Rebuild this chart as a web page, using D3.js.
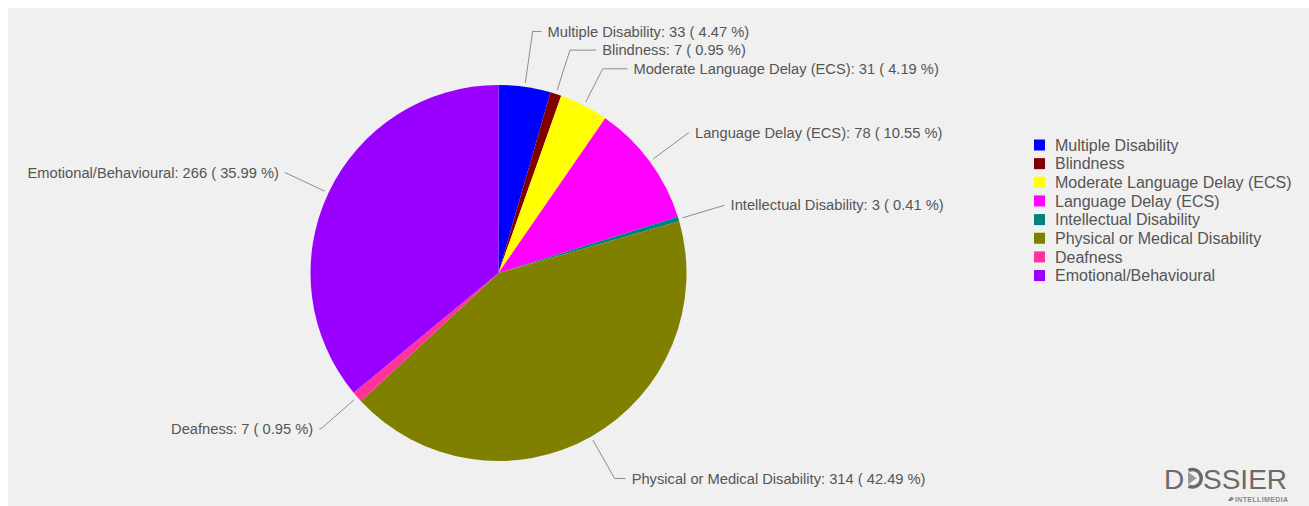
<!DOCTYPE html>
<html><head><meta charset="utf-8">
<script src="https://cdn.jsdelivr.net/npm/d3@7"></script>
<style>
body{margin:0;background:#fff}
svg{display:block}
text{font-family:"Liberation Sans",Arial,Helvetica,sans-serif}
</style>
</head><body>
<svg id="chart" width="1309" height="506"></svg>
<script>
const categories = ["Multiple Disability","Blindness","Moderate Language Delay (ECS)","Language Delay (ECS)","Intellectual Disability","Physical or Medical Disability","Deafness","Emotional/Behavioural"];
const values = [33, 7, 31, 78, 3, 314, 7, 266];
const colors = ["#0000ff","#800000","#ffff00","#ff00ff","#008080","#808000","#ff3399","#9900ff"];

const W = 1309, H = 506;
const svg = d3.select("#chart");
svg.append("rect").attr("x", 8).attr("y", 8).attr("width", W - 8).attr("height", H - 8).attr("fill", "#f0f0f0");

const cx = 498.5, cy = 273, r = 188;
const total = d3.sum(values);
const data = categories.map((c, i) => ({name: c, value: values[i], color: colors[i], pct: (values[i] / total * 100).toFixed(2)}));

const pie = d3.pie().value(d => d.value).sort(null).startAngle(0).endAngle(2 * Math.PI);
const arcs = pie(data);
const arc = d3.arc().innerRadius(0).outerRadius(r);

const g = svg.append("g").attr("transform", `translate(${cx},${cy})`);
g.selectAll("path.slice").data(arcs).join("path")
  .attr("class", "slice")
  .attr("d", arc)
  .attr("fill", d => d.data.color);

// label layout
const Rn = 236, Rx = 233, Ry = 246, lh = 18.7;
const labels = arcs.map(d => {
  const a = (d.startAngle + d.endAngle) / 2;
  const s = Math.sin(a) >= 0 ? 1 : -1;
  return {d, a, s, ny: cy - Rn * Math.cos(a)};
});

function distribute(items, h, minY, maxY) {
  items.sort((p, q) => p.ny - q.ny);
  const groups = items.map(d => ({items: [d]}));
  const place = grp => {
    const n = grp.items.length;
    let top = d3.mean(grp.items, (d, i) => d.ny - i * h);
    top = Math.max(minY, Math.min(maxY - (n - 1) * h, top));
    grp.top = top;
  };
  groups.forEach(place);
  let changed = true;
  while (changed) {
    changed = false;
    for (let i = 0; i < groups.length - 1; i++) {
      const A = groups[i], B = groups[i + 1];
      if (A.top + A.items.length * h > B.top) {
        A.items = A.items.concat(B.items);
        groups.splice(i + 1, 1);
        place(A);
        changed = true;
        break;
      }
    }
  }
  groups.forEach(grp => grp.items.forEach((d, i) => d.y = grp.top + i * h));
}
distribute(labels.filter(l => l.s > 0), lh, 20, 490);
distribute(labels.filter(l => l.s < 0), lh, 20, 490);

labels.forEach(l => {
  const ca = Math.cos(l.a), sa = Math.sin(l.a);
  let t = Math.abs(ca) > 1e-6 ? (cy - l.y) / ca : r + 40;
  if (!(t > 0)) t = r + 40;
  t = Math.max(r + 15, Math.min(r + 70, t));
  l.ax = cx + (r + 4) * sa; l.ay = cy - (r + 4) * ca;
  l.ex = cx + t * sa; l.ey = l.y;
  const dy = l.y - cy;
  const ex = Rx * Math.sqrt(Math.max(0, 1 - (dy / Ry) * (dy / Ry)));
  const ellX = cx + l.s * (ex + 5);
  l.tx = l.s > 0 ? Math.max(l.ex + 6, ellX) : Math.min(l.ex - 6, ellX);
  l.hx = l.tx - l.s * 6;
});

const lg = svg.append("g");
lg.selectAll("path.conn").data(labels).join("path")
  .attr("class", "conn")
  .attr("d", l => `M${l.ax},${l.ay}L${l.ex},${l.ey}L${l.hx},${l.ey}`)
  .attr("fill", "none").attr("stroke", "#8c8c8c").attr("stroke-width", 1);
lg.selectAll("text.lbl").data(labels).join("text")
  .attr("class", "lbl")
  .attr("x", l => l.tx).attr("y", l => l.y)
  .attr("dy", "0.35em")
  .attr("text-anchor", l => l.s > 0 ? "start" : "end")
  .attr("font-size", 14.7)
  .attr("fill", "#555")
  .text(l => `${l.d.data.name}: ${l.d.data.value} ( ${l.d.data.pct} %)`);

// legend
const legY = d3.scaleLinear().domain([0, 1]).range([145, 163.65]);
const leg = svg.append("g");
const items = leg.selectAll("g").data(data).join("g")
  .attr("transform", (d, i) => `translate(1034,${legY(i)})`);
items.append("rect").attr("x", 0).attr("y", -5.5).attr("width", 11).attr("height", 11).attr("fill", d => d.color);
items.append("text").attr("x", 21).attr("y", 0).attr("dy", "0.35em")
  .attr("font-size", 16).attr("fill", "#555").text(d => d.name);

// logo
const logo = svg.append("g").attr("fill", "#6a6a6a");
logo.append("text").attr("x", 1164).attr("y", 488.5).attr("font-size", 28).text("D");
logo.append("path")
  .attr("d", d3.arc().innerRadius(7).outerRadius(10.5).startAngle(-0.15 * Math.PI).endAngle(1.15 * Math.PI)())
  .attr("transform", "translate(1192.5,478.3)");
logo.append("path").attr("d", "M1188,472L1196.5,478.3L1188,484.6Z").attr("fill", "#9a9a9a");
logo.append("text").attr("x", 1203).attr("y", 488.5).attr("font-size", 28).text("SSIER");
logo.append("path").attr("d", "M1228,501 q3,-7 6,-2 l-3,2z").attr("fill", "#888");
logo.append("text").attr("x", 1235).attr("y", 501.5).attr("font-size", 7).attr("font-weight", "bold")
  .attr("fill", "#888").attr("textLength", 53).text("INTELLIMEDIA");
</script>
</body></html>
